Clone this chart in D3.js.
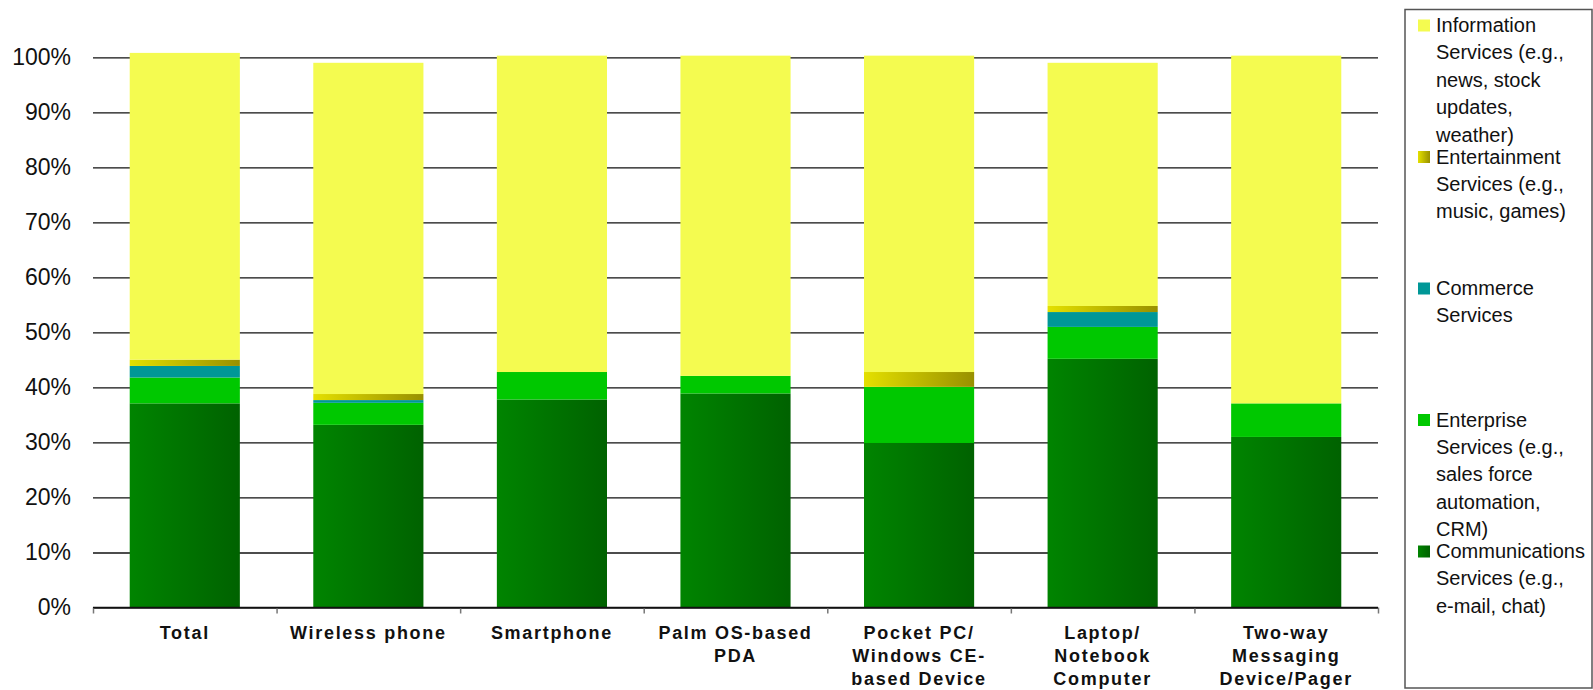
<!DOCTYPE html>
<html>
<head>
<meta charset="utf-8">
<script src="https://cdn.jsdelivr.net/npm/d3@7"></script>
<style>
  html, body { margin: 0; padding: 0; background: #fff; }
  svg { display: block; font-family: "Liberation Sans", Arial, sans-serif; }
</style>
</head>
<body>
<svg id="chart" width="1593" height="690"></svg>
<script>
// Device categories (multi-line labels separated by "\n")
const categories = [
  "Total",
  "Wireless phone",
  "Smartphone",
  "Palm OS-based\nPDA",
  "Pocket PC/\nWindows CE-\nbased Device",
  "Laptop/\nNotebook\nComputer",
  "Two-way\nMessaging\nDevice/Pager"
];

// Share of respondents (%) per service type, bottom to top of each stack
const communications = [37.1, 33.2, 37.8, 38.9, 29.9, 45.2, 31.0];
const enterprise     = [4.7, 4.0, 5.0, 3.2, 10.2, 5.8, 6.1];
const commerce       = [2.1, 0.5, 0, 0, 0, 2.7, 0];
const entertainment  = [1.15, 1.1, 0, 0, 2.7, 1.1, 0];
const information    = [55.75, 60.2, 57.5, 58.2, 57.5, 44.2, 63.2];

const yTicks = [0, 10, 20, 30, 40, 50, 60, 70, 80, 90, 100];

// Series keys, stack order bottom -> top
const seriesKeys = ["communications", "enterprise", "commerce", "entertainment", "information"];

// Legend lists series top -> bottom
const legendKeys = ["information", "entertainment", "commerce", "enterprise", "communications"];
const legendLabels = {
  information:    ["Information", "Services (e.g.,", "news, stock", "updates,", "weather)"],
  entertainment:  ["Entertainment", "Services (e.g.,", "music, games)"],
  commerce:       ["Commerce", "Services"],
  enterprise:     ["Enterprise", "Services (e.g.,", "sales force", "automation,", "CRM)"],
  communications: ["Communications", "Services (e.g.,", "e-mail, chat)"]
};

const table = categories.map((c, i) => ({
  category: c,
  communications: communications[i],
  enterprise: enterprise[i],
  commerce: commerce[i],
  entertainment: entertainment[i],
  information: information[i]
}));

const svg = d3.select("#chart");
const plot = { left: 93, right: 1378, top: 57.3, bottom: 607.5 };

// Fills: flat colours plus two horizontal gradients
const defs = svg.append("defs");
function hGrad(id, from, to) {
  const g = defs.append("linearGradient").attr("id", id)
    .attr("x1", "0%").attr("x2", "100%").attr("y1", "0%").attr("y2", "0%");
  g.append("stop").attr("offset", "0%").attr("stop-color", from);
  g.append("stop").attr("offset", "100%").attr("stop-color", to);
}
hGrad("gradComm", "#008400", "#006200");
hGrad("gradEnt", "#e4e000", "#989000");

const fills = {
  communications: "url(#gradComm)",
  enterprise: "#00c800",
  commerce: "#009797",
  entertainment: "url(#gradEnt)",
  information: "#f4fb50"
};

const x = d3.scaleBand()
  .domain(d3.range(categories.length))
  .range([plot.left, plot.right])
  .paddingInner(0.4)
  .paddingOuter(0.2);

const y = d3.scaleLinear().domain([0, 100]).range([plot.bottom, plot.top]);

// Gridlines and percentage labels
const yAxis = svg.append("g")
  .attr("transform", `translate(${plot.left},0)`)
  .call(d3.axisLeft(y)
    .tickValues(yTicks)
    .tickSize(-(plot.right - plot.left))
    .tickPadding(22)
    .tickFormat(d => d + "%"));
yAxis.select(".domain").remove();
yAxis.selectAll(".tick line").attr("stroke", "#111").attr("stroke-width", 1.3);
yAxis.selectAll(".tick text")
  .attr("font-size", 23)
  .attr("fill", "#111")
  .attr("font-family", "'Liberation Sans', Arial, sans-serif");

// Category boundary ticks along the baseline
const xEdges = d3.scaleLinear().domain([0, categories.length]).range([plot.left, plot.right]);
const xAxis = svg.append("g")
  .attr("transform", `translate(0,${plot.bottom})`)
  .call(d3.axisBottom(xEdges)
    .tickValues(d3.range(categories.length + 1))
    .tickSize(6)
    .tickFormat(""));
xAxis.select(".domain").remove();
xAxis.selectAll(".tick line").attr("stroke", "#777").attr("stroke-width", 1.5);

// Stacked bars
const stacked = d3.stack().keys(seriesKeys)(table);
svg.append("g").selectAll("g")
  .data(stacked)
  .join("g")
  .attr("fill", d => fills[d.key])
  .selectAll("rect")
  .data(d => d.map((s, i) => ({ s, i })))
  .join("rect")
  .attr("x", d => x(d.i))
  .attr("width", x.bandwidth())
  .attr("y", d => y(d.s[1]))
  .attr("height", d => Math.max(0, y(d.s[0]) - y(d.s[1])));

// Baseline drawn over the bars
svg.append("line")
  .attr("x1", plot.left).attr("x2", plot.right)
  .attr("y1", plot.bottom).attr("y2", plot.bottom)
  .attr("stroke", "#111").attr("stroke-width", 1.3);

// Category labels
const catLabels = svg.append("g")
  .attr("font-size", 18)
  .attr("font-weight", "bold")
  .attr("fill", "#111")
  .attr("letter-spacing", "1.7px")
  .attr("text-anchor", "middle");
categories.forEach((c, i) => {
  const t = catLabels.append("text")
    .attr("x", x(i) + x.bandwidth() / 2)
    .attr("y", 638.5);
  c.split("\n").forEach((line, k) => {
    t.append("tspan")
      .attr("x", x(i) + x.bandwidth() / 2)
      .attr("dy", k === 0 ? 0 : 23.3)
      .text(line);
  });
});

// Legend
const legend = svg.append("g");
legend.append("rect")
  .attr("x", 1405).attr("y", 9.5)
  .attr("width", 187).attr("height", 678.5)
  .attr("fill", "#fff")
  .attr("stroke", "#555").attr("stroke-width", 1.5);

legendKeys.forEach((key, i) => {
  const cy = 25 + i * 131.5;
  legend.append("rect")
    .attr("x", 1418).attr("y", cy - 5.5)
    .attr("width", 12).attr("height", 12)
    .attr("fill", fills[key]);
  const t = legend.append("text")
    .attr("x", 1436)
    .attr("y", cy + 7)
    .attr("font-size", 20)
    .attr("fill", "#111");
  legendLabels[key].forEach((line, k) => {
    t.append("tspan")
      .attr("x", 1436)
      .attr("dy", k === 0 ? 0 : 27.4)
      .text(line);
  });
});
</script>
</body>
</html>
